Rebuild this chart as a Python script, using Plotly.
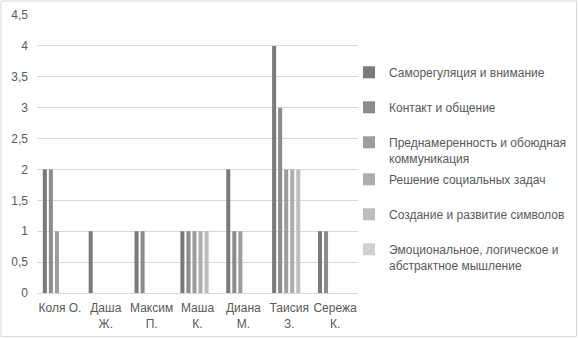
import plotly.graph_objects as go

categories = ["Коля О.", "Даша<br>Ж.", "Максим<br>П.", "Маша<br>К.", "Диана<br>М.", "Таисия<br>З.", "Сережа<br>К."]
series_names = [
    "Саморегуляция и внимание",
    "Контакт и общение",
    "Преднамеренность и обоюдная<br>коммуникация",
    "Решение социальных задач",
    "Создание и развитие символов",
    "Эмоциональное, логическое и<br>абстрактное мышление",
]
s1 = [2, 1, 1, 1, 2, 4, 1]
s2 = [2, 0, 1, 1, 1, 3, 1]
s3 = [1, 0, 0, 1, 1, 2, 0]
s4 = [0, 0, 0, 1, 0, 2, 0]
s5 = [0, 0, 0, 1, 0, 2, 0]
s6 = [0, 0, 0, 0, 0, 0, 0]
series_values = [s1, s2, s3, s4, s5, s6]
colors = ["#7a7a7a", "#8c8c8c", "#9d9d9d", "#adadad", "#bebebe", "#d0d0d0"]

W, H = 578, 338
L, R, T, B = 37, 220, 15, 45
pw, ph = W - L - R, H - T - B

legend_tops = [58, 93, 128, 165, 200, 235]
legend_left = 349

fig = go.Figure()
layout_legends = {}
for i, (name, vals, col) in enumerate(zip(series_names, series_values, colors)):
    key = "legend" if i == 0 else f"legend{i+1}"
    fig.add_trace(go.Bar(x=categories, y=vals, name=name, marker_color=col,
                         marker_line_width=0, legend=key, showlegend=True))
    layout_legends[key] = dict(
        x=(legend_left - L) / pw, xanchor="left",
        y=(H - B - legend_tops[i]) / ph, yanchor="top",
        font=dict(family="Liberation Sans, Arial", size=12, color="#595959"),
        bgcolor="rgba(0,0,0,0)", valign="top", visible=True,
        itemwidth=30, tracegroupgap=0,
    )

fig.update_layout(
    width=W, height=H,
    margin=dict(l=L, r=R, t=T, b=B, autoexpand=False),
    showlegend=True,
    paper_bgcolor="white", plot_bgcolor="white",
    separators=", ",
    barmode="group", bargap=0.21, bargroupgap=0.33,
    font=dict(family="Liberation Sans, Arial", size=12, color="#595959"),
    xaxis=dict(showgrid=False, showline=True, linecolor="#d9d9d9", linewidth=1,
               tickfont=dict(size=12, color="#595959"), ticks="", tickangle=0,
               automargin=False, ticklabelstandoff=4),
    yaxis=dict(range=[0, 4.5], dtick=0.5, showgrid=True, gridcolor="#d9d9d9",
               gridwidth=1, zeroline=False, showline=False,
               tickfont=dict(size=12, color="#595959"), ticks="",
               ticklabelstandoff=8, automargin=False),
    **layout_legends,
)
fig.add_shape(type="rect", xref="paper", yref="paper",
              x0=(1 - L) / pw, x1=(W - 1.5 - L) / pw,
              y0=(H - B - (H - 1.5)) / ph, y1=(H - B - 1) / ph,
              line=dict(color="#d9d9d9", width=1), fillcolor="rgba(0,0,0,0)", layer="below")
fig.write_html("out.html", config={"displayModeBar": False},
               post_script="document.body.style.margin='0';")
